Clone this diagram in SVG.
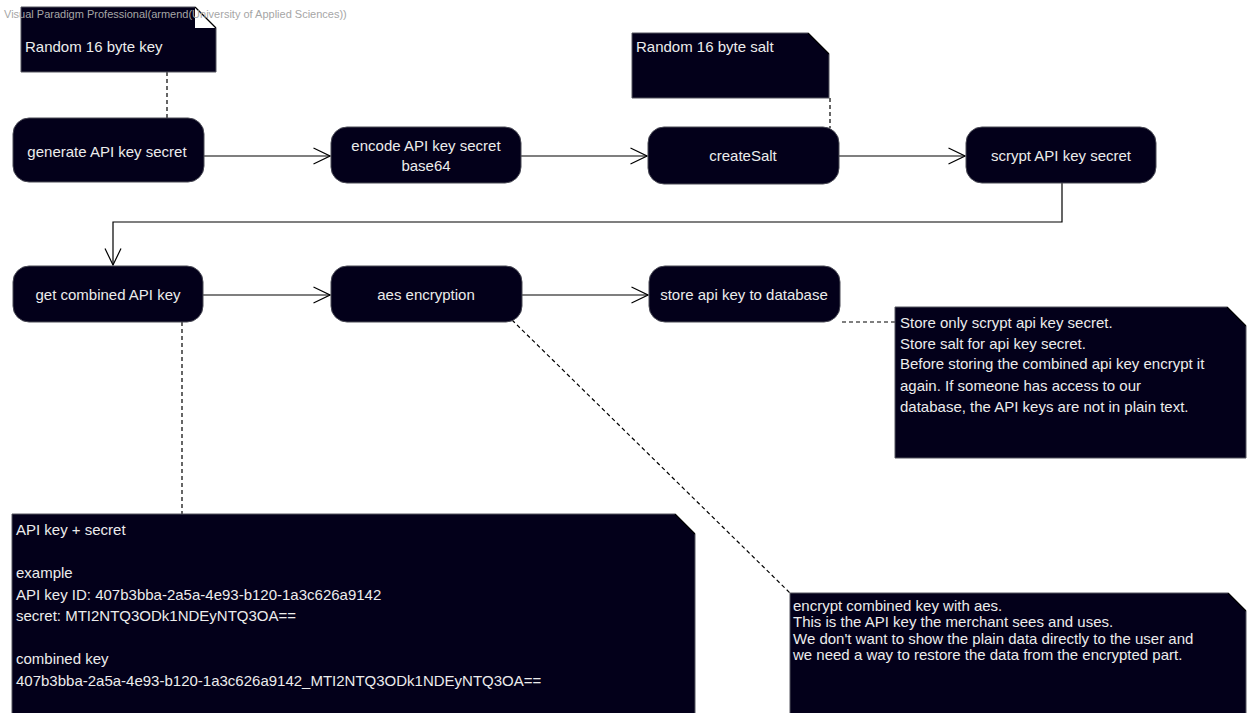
<svg xmlns="http://www.w3.org/2000/svg" width="1247" height="713" viewBox="0 0 1247 713">
  <style>
    .bg { fill: #ffffff; }
    .action { fill: #03001a; stroke: #4a4a55; stroke-width: 1; }
    .note { fill: #03001a; stroke: #55555f; stroke-width: 1; }
    .fold { fill: #ffffff; stroke: none; }
    .label { font-family: "Liberation Sans", Arial, sans-serif; font-size: 15px; fill: #ececec; }
    .center { text-anchor: middle; }
    .flow { fill: none; stroke: #000000; stroke-width: 1.2; }
    .anchor { fill: none; stroke: #000000; stroke-width: 1.2; stroke-dasharray: 4 3; }
    .watermark { font-family: "Liberation Sans", Arial, sans-serif; font-size: 11px; fill: #a6a6a6; }
  </style>
  <defs>
    <marker id="open-arrow" viewBox="0 0 18 18" refX="17.5" refY="9" markerWidth="18" markerHeight="18" markerUnits="userSpaceOnUse" orient="auto">
      <path d="M1,1 L17.5,9 L1,17" fill="none" stroke="#000000" stroke-width="1.2"/>
    </marker>
  </defs>

  <rect class="bg" x="0" y="0" width="1247" height="713"/>

  <!-- control flows and note anchors -->
  <g id="connectors">
    <path class="flow" d="M204,156 H330" marker-end="url(#open-arrow)"/>
    <path class="flow" d="M521,156 H647" marker-end="url(#open-arrow)"/>
    <path class="flow" d="M839,156 H965" marker-end="url(#open-arrow)"/>
    <path class="flow" d="M1062,183 V222 H113 V265" marker-end="url(#open-arrow)"/>
    <path class="flow" d="M203,295 H330" marker-end="url(#open-arrow)"/>
    <path class="flow" d="M522,295 H648" marker-end="url(#open-arrow)"/>
    <path class="anchor" d="M167,72 V118"/>
    <path class="anchor" d="M830,98 V128"/>
    <path class="anchor" d="M182,322 V514"/>
    <path class="anchor" d="M512,320 L790,593"/>
    <path class="anchor" d="M842,322 H895"/>
  </g>

  <!-- notes -->
  <g id="note-key">
    <path class="note" d="M21,7 H195 L216,28 V72 H21 Z"/>
    <path class="fold" d="M195,7 L216,28 H195 Z"/>
    <path class="flow" d="M195,7 L216,28"/>
    <text class="label" x="25" y="52">Random 16 byte key</text>
  </g>

  <g id="note-salt">
    <path class="note" d="M632,33 H808 L829,54 V98 H632 Z"/>
    <path class="flow" d="M808,33 L829,54"/>
    <text class="label" x="636" y="52">Random 16 byte salt</text>
  </g>

  <g id="note-storage">
    <path class="note" d="M895,307 H1227 L1246,326 V458 H895 Z"/>
    <path class="flow" d="M1227,307 L1246,326"/>
    <text class="label" x="900" y="328">Store only scrypt api key secret.</text>
    <text class="label" x="900" y="348.5">Store salt for api key secret.</text>
    <text class="label" x="900" y="369">Before storing the combined api key encrypt it</text>
    <text class="label" x="900" y="391">again. If someone has access to our</text>
    <text class="label" x="900" y="411.5">database, the API keys are not in plain text.</text>
  </g>

  <g id="note-combined-key">
    <path class="note" d="M12,514 H675 L695,534 V720 H12 Z"/>
    <path class="flow" d="M675,514 L695,534"/>
    <text class="label" x="16" y="535">API key + secret</text>
    <text class="label" x="16" y="578">example</text>
    <text class="label" x="16" y="600">API key ID: 407b3bba-2a5a-4e93-b120-1a3c626a9142</text>
    <text class="label" x="16" y="621">secret: MTI2NTQ3ODk1NDEyNTQ3OA==</text>
    <text class="label" x="16" y="664">combined key</text>
    <text class="label" x="16" y="686">407b3bba-2a5a-4e93-b120-1a3c626a9142_MTI2NTQ3ODk1NDEyNTQ3OA==</text>
  </g>

  <g id="note-aes">
    <path class="note" d="M790,593 H1228 L1246,611 V720 H790 Z"/>
    <path class="flow" d="M1228,593 L1246,611"/>
    <text class="label" x="793" y="610.5">encrypt combined key with aes.</text>
    <text class="label" x="793" y="627">This is the API key the merchant sees and uses.</text>
    <text class="label" x="793" y="643.5">We don't want to show the plain data directly to the user and</text>
    <text class="label" x="793" y="660">we need a way to restore the data from the encrypted part.</text>
  </g>

  <!-- actions -->
  <g id="generate-secret">
    <rect class="action" x="13" y="118" width="191" height="64" rx="16"/>
    <text class="label center" x="107" y="157">generate API key secret</text>
  </g>

  <g id="encode-base64">
    <rect class="action" x="331" y="127" width="190" height="56" rx="16"/>
    <text class="label center" x="426" y="151">encode API key secret</text>
    <text class="label center" x="426" y="171">base64</text>
  </g>

  <g id="create-salt">
    <rect class="action" x="648" y="127" width="191" height="57" rx="16"/>
    <text class="label center" x="743" y="161">createSalt</text>
  </g>

  <g id="scrypt-secret">
    <rect class="action" x="966" y="127" width="190" height="56" rx="16"/>
    <text class="label center" x="1061" y="161">scrypt API key secret</text>
  </g>

  <g id="combined-key">
    <rect class="action" x="13" y="266" width="190" height="56" rx="16"/>
    <text class="label center" x="108" y="300">get combined API key</text>
  </g>

  <g id="aes-encryption">
    <rect class="action" x="331" y="266" width="191" height="56" rx="16"/>
    <text class="label center" x="426" y="300">aes encryption</text>
  </g>

  <g id="store-key">
    <rect class="action" x="649" y="266" width="191" height="56" rx="16"/>
    <text class="label center" x="744" y="300">store api key to database</text>
  </g>

  <!-- tool watermark, printed over the top-left note -->
  <text class="watermark" x="4" y="18">Visual Paradigm Professional(armend(University of Applied Sciences))</text>
</svg>
